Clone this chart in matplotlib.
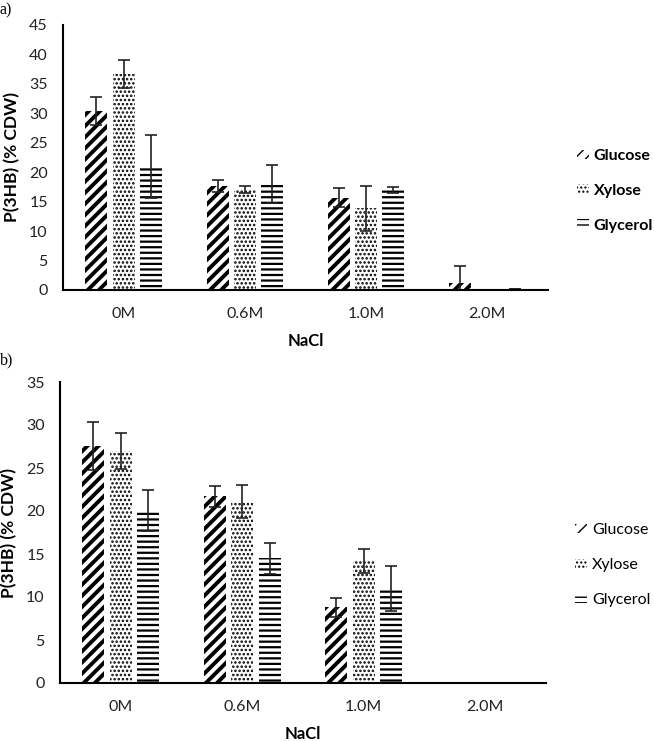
import matplotlib
matplotlib.use("Agg")
import matplotlib.pyplot as plt
import matplotlib.patches as mpatches
import numpy as np

plt.rcParams['font.family'] = ['Lato', 'DejaVu Sans']

categories = ["0M", "0.6M", "1.0M", "2.0M"]
series = ["Glucose", "Xylose", "Glycerol"]
hatches = ["///", "....", "---"]
hatch_lw = [2.8, 1.2, 1.6]

# panel a
a_glucose = [30.4, 17.6, 15.7, 1.2]
a_glucose_err = [2.3, 1.0, 1.6, 2.9]
a_xylose = [36.7, 17.0, 13.9, 0.0]
a_xylose_err = [2.4, 0.6, 3.8, 0.0]
a_glycerol = [21.0, 18.0, 17.0, 0.2]
a_glycerol_err = [5.3, 3.3, 0.5, 0.0]

# panel b
b_glucose = [27.6, 21.7, 8.8, 0.0]
b_glucose_err = [2.8, 1.2, 1.1, 0.0]
b_xylose = [27.0, 21.1, 14.2, 0.0]
b_xylose_err = [2.1, 1.9, 1.4, 0.0]
b_glycerol = [20.1, 14.5, 11.0, 0.0]
b_glycerol_err = [2.4, 1.8, 2.6, 0.0]

W, H = 654, 741
fig = plt.figure(figsize=(W / 100, H / 100), dpi=100)


def px_axes(left, top, right, bottom):
    return fig.add_axes([left / W, 1 - bottom / H, (right - left) / W, (bottom - top) / H])


def set_hlw(p, lw):
    try:
        p.set_hatch_linewidth(lw)
    except AttributeError:
        pass


def draw_panel(ax, vals, errs, ymax, bold_legend, leg_anchor):
    x = np.arange(len(categories))
    bw = 0.18
    step = 0.225
    for j, (v, e) in enumerate(zip(vals, errs)):
        bars = ax.bar(x + (j - 1) * step, v, bw, color="white", edgecolor="black",
                      linewidth=0, hatch=hatches[j], label=series[j])
        for b in bars:
            set_hlw(b, hatch_lw[j])
        ax.errorbar(x + (j - 1) * step, v, yerr=e, fmt="none", ecolor="#222222",
                    elinewidth=1.2, capsize=4, capthick=1.2)
    ax.set_xlim(-0.5, len(categories) - 0.5)
    ax.set_ylim(0, ymax)
    ax.set_yticks(np.arange(0, ymax + 1, 5))
    ax.set_xticks(x)
    ax.set_xticklabels(categories)
    ax.tick_params(axis="both", length=0, labelsize=11.5, colors="#222222")
    ax.tick_params(axis="x", pad=12)
    ax.tick_params(axis="y", pad=11)
    for s in ["top", "right"]:
        ax.spines[s].set_visible(False)
    for s in ["left", "bottom"]:
        ax.spines[s].set_linewidth(1.5)
        ax.spines[s].set_color("black")
    ax.set_ylabel("P(3HB) (% CDW)", fontsize=12.5, fontweight="bold", labelpad=6)
    ax.set_xlabel("NaCl", fontsize=12, fontweight="bold", labelpad=9)

    handles = []
    for j in range(3):
        p = mpatches.Patch(facecolor="white", edgecolor="black", linewidth=0,
                           hatch=hatches[j], label=series[j])
        set_hlw(p, hatch_lw[j])
        handles.append(p)
    ax.legend(handles=handles, loc="center left", bbox_to_anchor=leg_anchor,
              frameon=False, handlelength=0.75, handleheight=0.55,
              handletextpad=0.3, labelspacing=1.3, borderpad=0, borderaxespad=0,
              prop={"size": 11.5, "weight": "bold" if bold_legend else "normal"})


ax_a = px_axes(63, 25, 548, 290)
draw_panel(ax_a, [a_glucose, a_xylose, a_glycerol],
           [a_glucose_err, a_xylose_err, a_glycerol_err], 45, True, (1.06, 0.374))

ax_b = px_axes(60, 382, 546, 683)
draw_panel(ax_b, [b_glucose, b_xylose, b_glycerol],
           [b_glucose_err, b_xylose_err, b_glycerol_err], 35, False, (1.06, 0.392))

fig.text(0.0, 1 - 10 / H, "a)", family="Liberation Serif", fontsize=11.5, va="center", ha="left")
fig.text(0.0, 1 - 360 / H, "b)", family="Liberation Serif", fontsize=11.5, va="center", ha="left")

fig.savefig("out.png", dpi=100)
